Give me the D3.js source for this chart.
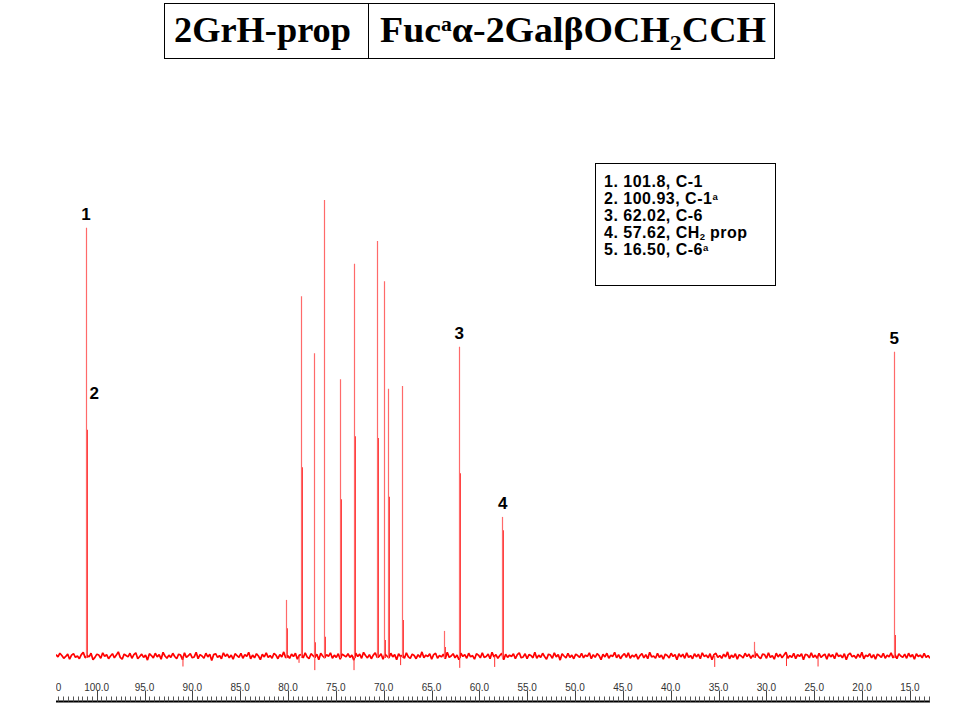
<!DOCTYPE html>
<html>
<head>
<meta charset="utf-8">
<script src="https://cdn.jsdelivr.net/npm/d3@7"></script>
<style>
  body { margin: 0; background: #fff; }
  svg { display: block; }
</style>
</head>
<body>
<div id="chart"></div>
<script>
// ppm positions of the resonances and their heights (tallest = 100)
var peakPpm      = [101.12, 80.25, 78.65, 77.29, 76.24, 74.57, 73.14, 70.74, 69.94, 69.59, 68.06, 63.73, 62.10, 57.67, 31.27, 16.64];
var peakHeight   = [93.9, 12.3, 78.9, 66.4, 100, 60.7, 86.0, 91.0, 82.2, 58.6, 59.2, 5.5, 67.8, 30.5, 3.1, 66.7];
// second (overlapping) component drawn right next to each line
var peakShoulder = [49.6, 6.1, 41.4, 3.0, 4.2, 34.4, 48.2, 47.8, 3.5, 34.9, 7.9, 2.0, 40.1, 27.6, 1.0, 4.6];

// negative spikes in the baseline
var dipPpm   = [90.98, 78.85, 77.20, 73.10, 68.23, 62.05, 58.40, 35.40, 27.90, 24.60];
var dipDepth = [-2.3, -1.5, -3.1, -3.1, -2.0, -2.6, -2.4, -2.4, -2.2, -2.3];

// baseline noise (intensity units)
var noise = [
  0.3,-0.2,0.6,0.1,-0.5,-0.1,0.4,-0.7,0.2,0.5,-0.3,0.0,-0.6,0.3,0.8,-0.4,0.1,-0.2,0.6,-0.8,-0.3,0.4,0.2,-0.5,0.7,-0.1,0.3,-0.6,0.0,0.5,
  -0.4,0.2,0.9,-0.3,-0.7,0.4,0.1,-0.2,0.6,-0.5,0.3,0.7,-0.6,-0.1,0.4,-0.3,0.2,-0.9,0.5,0.1,-0.4,0.6,-0.2,0.3,-0.7,0.8,0.0,-0.5,0.2,-0.3,
  0.6,-0.1,-0.6,0.4,0.2,-0.8,0.7,-0.3,0.1,0.5,-0.4,-0.2,0.8,-0.6,0.3,0.0,-0.5,0.6,-0.2,0.4,-1.0,0.3,0.5,-0.3,0.1,-0.6,0.7,-0.1,0.4,-0.4,
  0.2,-0.7,0.5,0.1,-0.3,0.6,-0.5,0.3,-0.1,0.8,-0.6,0.2,-0.4,0.5,0.0,-0.8,0.4,-0.2,0.7,-0.3,0.1,-0.5,0.6,0.2,-0.6,0.3,-0.2,0.9,-0.4,0.1,
  -0.5,0.4,-0.1,0.6,-0.7,0.2,0.3,-0.4,0.7,-0.2,-0.6,0.5,0.1,-0.3,0.4,-0.8,0.6,0.0,-0.4,0.3,-0.1,0.7,-0.5,0.2,-0.3,0.5,-0.7,0.4,0.1,-0.2,
  0.5,-0.3,0.2,-0.9,0.6,-0.1,0.4,-0.5,0.8,0.1,-0.4,0.3,-0.6,0.2,0.7,-0.3,-0.1,0.5,-0.7,0.4,0.0,-0.4,0.6,-0.2,0.3,-0.8,0.5,-0.1,0.2,-0.5,
  0.7,-0.2,-0.5,0.4,0.1,-0.6,0.3,-0.3,0.9,-0.4,0.2,-0.1,0.5,-0.7,0.3,0.6,-0.5,0.1,-0.2,0.4,-0.6,0.8,-0.3,0.0,0.5,-0.4,0.2,-0.8,0.6,-0.1,
  0.3,-0.5,0.6,-0.2,0.1,-0.7,0.5,0.2,-0.4,0.7,-0.3,-0.1,0.4,-0.6,0.8,-0.2,0.3,-0.5,0.1,0.6,-0.8,0.4,-0.3,0.2,-0.1,0.5,-0.6,0.3,0.7,-0.4,
  -0.2,0.5,-0.6,0.3,0.1,-0.4,0.8,-0.5,0.2,-0.3,0.6,-0.1,-0.7,0.4,0.2,-0.5,0.7,-0.2,0.3,-0.9,0.5,0.0,-0.4,0.6,-0.3,0.2,-0.6,0.4,0.1,-0.3,
  0.6,-0.4,0.2,-0.1,0.7,-0.6,0.3,-0.3,0.5,0.1,-0.8,0.4,-0.2,0.6,-0.5,0.2,-0.1,0.8,-0.4,0.3,-0.6,0.1,0.5,-0.3,0.7,-0.5,0.2,-0.2,0.4,-0.7,
  0.1,0.5,-0.4,0.3,-0.6,0.8,-0.2,0.0,-0.5,0.6,-0.3,0.2,-0.7,0.4,0.1,-0.4,0.6,-0.1,0.3,-0.8,0.5,-0.2,0.4,-0.5,0.7,-0.3,0.1,-0.6,0.5,-0.2,
  0.4,-0.6,0.7,-0.1,0.2,-0.4,0.5,-0.8,0.3,0.6,-0.3,0.1,-0.5,0.4,-0.2,0.9,-0.6,0.2,-0.3,0.5,-0.7,0.3,0.0,-0.4,0.6,-0.1,0.4,-0.5,0.2,-0.3,
  0.5,-0.2,-0.6,0.4,0.3,-0.5,0.7,-0.3,0.1,-0.7,0.6,-0.2,0.4,-0.4,0.2,0.8,-0.5,0.1,-0.3,0.6,-0.6,0.3,-0.1,0.5,-0.8,0.4,0.2,-0.4,0.7,-0.3,
  0.2,-0.5,0.6,-0.3,0.1,0.4,-0.7,0.5,-0.2,0.3,-0.6,0.7,-0.1,0.2,-0.4,0.5,-0.8,0.3,0.6,-0.2,0.1,-0.5,0.4,-0.3,0.8,-0.6,0.2,-0.1,0.5,-0.4,
  0.3,-0.7,0.4,0.1,-0.3,0.6,-0.5,0.2,-0.2,0.7,-0.4,0.3,-0.6,0.5,0.0,-0.3,0.4,-0.5,0.6,-0.2,0.3,-0.7,0.5,-0.1,0.2,-0.4,0.6,-0.3,0.1,-0.5
];

var axisTicks = [105, 100, 95, 90, 85, 80, 75, 70, 65, 60, 55, 50, 45, 40, 35, 30, 25, 20, 15];

var peakLabels = ["1", "2", "3", "4", "5"];
var labelPpm   = [101.12, 100.25, 62.10, 57.55, 16.64];
var labelLevel = [95.6, 56.3, 69.5, 32.2, 68.4];

var legendLines = [
  [{t: "1. 101.8, C-1"}],
  [{t: "2. 100.93, C-1"}, {t: "a", sup: true}],
  [{t: "3. 62.02, C-6"}],
  [{t: "4. 57.62, CH"}, {t: "2", sub: true}, {t: " prop"}],
  [{t: "5. 16.50, C-6"}, {t: "a", sup: true}]
];

var W = 960, H = 720;
var plot = {left: 56, right: 930, base: 656, top: 200};

var svg = d3.select("#chart").append("svg")
  .attr("width", W)
  .attr("height", H);

var x = d3.scaleLinear().domain([104.25, 12.9]).range([plot.left, plot.right]);
var y = d3.scaleLinear().domain([0, 100]).range([plot.base, plot.top]);

svg.append("clipPath").attr("id", "clip")
  .append("rect")
  .attr("x", plot.left).attr("y", 0)
  .attr("width", plot.right - plot.left).attr("height", H);

// title box
var serif = "'Liberation Serif', 'Times New Roman', serif";
var title = svg.append("g");
title.append("rect")
  .attr("x", 164.5).attr("y", 3.5)
  .attr("width", 610).attr("height", 55)
  .attr("fill", "none").attr("stroke", "#000").attr("stroke-width", 1);
title.append("line")
  .attr("x1", 368.5).attr("x2", 368.5).attr("y1", 3.5).attr("y2", 58.5)
  .attr("stroke", "#000");
title.append("text")
  .attr("x", 174).attr("y", 42)
  .attr("textLength", 177).attr("lengthAdjust", "spacingAndGlyphs")
  .style("font-family", serif)
  .style("font-weight", "bold").style("font-size", "35px")
  .text("2GrH-prop");
var t2 = title.append("text")
  .attr("x", 380).attr("y", 42)
  .attr("textLength", 386).attr("lengthAdjust", "spacingAndGlyphs")
  .style("font-family", serif)
  .style("font-weight", "bold").style("font-size", "35px");
t2.append("tspan").text("Fuc");
t2.append("tspan").attr("dy", -11).style("font-size", "20px").text("a");
t2.append("tspan").attr("dy", 11).text("\u03b1-2Gal\u03b2OCH");
t2.append("tspan").attr("dy", 8).style("font-size", "22px").text("2");
t2.append("tspan").attr("dy", -8).text("CCH");

// spectrum
var spec = svg.append("g").attr("clip-path", "url(#clip)");

var nx = d3.scaleLinear().domain([0, noise.length - 1]).range(x.domain());
spec.append("path")
  .datum(noise)
  .attr("fill", "none")
  .attr("stroke", "#ff0000")
  .attr("stroke-width", 1.7)
  .attr("stroke-linejoin", "bevel")
  .attr("d", d3.line()
    .x(function(d, i) { return x(nx(i)); })
    .y(function(d) { return y(d); }));

spec.selectAll(".dip")
  .data(dipPpm)
  .enter().append("line")
  .attr("class", "dip")
  .attr("x1", function(d) { return x(d); })
  .attr("x2", function(d) { return x(d); })
  .attr("y1", y(0))
  .attr("y2", function(d, i) { return y(dipDepth[i]); })
  .attr("stroke", "#ff3030")
  .attr("stroke-width", 1);

// overlapping component (solid)
spec.selectAll(".shoulder")
  .data(peakPpm)
  .enter().append("line")
  .attr("class", "shoulder")
  .attr("x1", function(d) { return Math.round(x(d)) + 1; })
  .attr("x2", function(d) { return Math.round(x(d)) + 1; })
  .attr("y1", y(0) + 2)
  .attr("y2", function(d, i) { return y(peakShoulder[i]); })
  .attr("stroke", "#ff0000")
  .attr("stroke-width", 1.5);

// main line (thin, light)
spec.selectAll(".peak")
  .data(peakPpm)
  .enter().append("line")
  .attr("class", "peak")
  .attr("x1", function(d) { return Math.round(x(d)) + 0.5; })
  .attr("x2", function(d) { return Math.round(x(d)) + 0.5; })
  .attr("y1", y(0) + 2)
  .attr("y2", function(d, i) { return y(peakHeight[i]); })
  .attr("stroke", "#ff6a6a")
  .attr("stroke-width", 1.2);

// peak numbers
svg.selectAll(".plabel")
  .data(peakLabels)
  .enter().append("text")
  .attr("class", "plabel")
  .attr("x", function(d, i) { return x(labelPpm[i]); })
  .attr("y", function(d, i) { return y(labelLevel[i]); })
  .attr("text-anchor", "middle")
  .style("font-family", "'Liberation Sans', Arial, sans-serif")
  .style("font-weight", "bold").style("font-size", "17px")
  .text(function(d) { return d; });

// ppm axis
var axisY = 701.5;
var axisG = svg.append("g").attr("clip-path", "url(#clip)");
axisG.append("line")
  .attr("x1", plot.left).attr("x2", plot.right)
  .attr("y1", axisY).attr("y2", axisY)
  .attr("stroke", "#000").attr("stroke-width", 2);
var minor = d3.range(105, 12.4, -0.5);
axisG.selectAll(".minor")
  .data(minor)
  .enter().append("line")
  .attr("class", "minor")
  .attr("x1", function(d) { return Math.round(x(d)) + 0.5; })
  .attr("x2", function(d) { return Math.round(x(d)) + 0.5; })
  .attr("y1", axisY - 5).attr("y2", axisY)
  .attr("stroke", "#555").attr("stroke-width", 1);
axisG.selectAll(".major")
  .data(axisTicks)
  .enter().append("line")
  .attr("class", "major")
  .attr("x1", function(d) { return Math.round(x(d)) + 0.5; })
  .attr("x2", function(d) { return Math.round(x(d)) + 0.5; })
  .attr("y1", axisY - 11).attr("y2", axisY)
  .attr("stroke", "#444").attr("stroke-width", 1);
axisG.selectAll(".tlabel")
  .data(axisTicks)
  .enter().append("text")
  .attr("class", "tlabel")
  .attr("x", function(d) { return x(d); })
  .attr("y", 691)
  .attr("text-anchor", "middle")
  .style("font-family", "'Liberation Sans', Arial, sans-serif")
  .style("font-size", "10px")
  .attr("fill", "#333")
  .text(function(d) { return d3.format(".1f")(d); });

// assignment box
var lg = svg.append("g");
lg.append("rect")
  .attr("x", 595.5).attr("y", 163.5)
  .attr("width", 180).attr("height", 122)
  .attr("fill", "#fff").attr("stroke", "#000").attr("stroke-width", 1);
legendLines.forEach(function(parts, i) {
  var txt = lg.append("text")
    .attr("x", 604).attr("y", 187 + i * 17)
    .style("font-family", "'Liberation Sans', Arial, sans-serif")
    .style("font-weight", "bold").style("font-size", "16px")
    .style("letter-spacing", "0.5px");
  var shift = 0;
  parts.forEach(function(p) {
    var dy;
    if (p.sup) dy = -4 - shift;
    else if (p.sub) dy = 2 - shift;
    else dy = -shift;
    var ts = txt.append("tspan").attr("dy", dy).text(p.t);
    if (p.sup || p.sub) ts.style("font-size", "9.5px").style("letter-spacing", "0px");
    shift += dy;
  });
});
</script>
</body>
</html>
